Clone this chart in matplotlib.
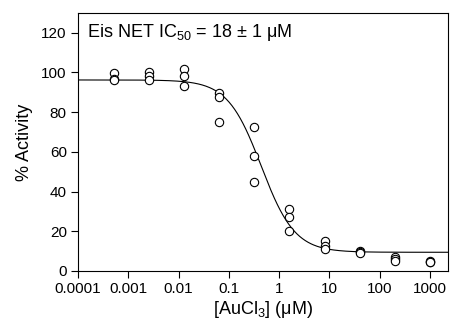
import matplotlib
matplotlib.use("Agg")
import matplotlib.pyplot as plt
import numpy as np

plt.rcParams['font.family'] = ['Liberation Sans', 'DejaVu Sans']
plt.rcParams['mathtext.fontset'] = 'custom'
plt.rcParams['mathtext.rm'] = 'Liberation Sans'
plt.rcParams['mathtext.it'] = 'Liberation Sans'

# concentrations (uM), 5-fold dilutions, three replicates each
conc = [0.000512, 0.00256, 0.0128, 0.064, 0.32, 1.6, 8, 40, 200, 1000]
rep1 = [99.5, 100.3, 101.6, 89.7, 72.7, 31.0, 15.1, 10.2, 7.2, 5.0]
rep2 = [96.8, 98.0, 98.0, 87.6, 57.8, 27.0, 12.8, 9.4, 5.9, 4.6]
rep3 = [96.0, 96.2, 93.2, 75.2, 45.0, 20.3, 11.0, 8.9, 5.0, 4.4]

# four-parameter fit
top = 96.2
bottom = 9.4
ic50 = 0.44
hill = 1.3

xticks = [0.0001, 0.001, 0.01, 0.1, 1, 10, 100, 1000]
xticklabels = ['0.0001', '0.001', '0.01', '0.1', '1', '10', '100', '1000']
yticks = [0, 20, 40, 60, 80, 100, 120]

fig = plt.figure(figsize=(4.53, 3.30), dpi=100)
ax = fig.add_axes([0.172, 0.179, 0.817, 0.782])

xs = np.logspace(-4, np.log10(2270), 400)
ax.plot(xs, bottom + (top - bottom) / (1 + (xs / ic50) ** hill), color='black', lw=0.8)

for r in (rep1, rep2, rep3):
    ax.plot(conc, r, 'o', mfc='white', mec='black', mew=0.8, ms=6, ls='none')

ax.set_xscale('log')
ax.set_xlim(1e-4, 2270)
ax.set_ylim(0, 130)
ax.set_xticks(xticks)
ax.set_xticklabels(xticklabels)
ax.xaxis.set_minor_locator(matplotlib.ticker.NullLocator())
ax.set_yticks(yticks)
ax.tick_params(direction='out', length=5, width=0.8, labelsize=11, pad=3)
for s in ax.spines.values():
    s.set_linewidth(0.8)

ax.set_xlabel(r'[AuCl$_3$] ($\mu$M)', fontsize=13, labelpad=2)
ax.set_ylabel('% Activity', fontsize=13, labelpad=6)
ax.text(0.025, 0.965, r'Eis NET IC$_{50}$ = 18 ± 1 μM', transform=ax.transAxes,
        fontsize=13, va='top', ha='left')

fig.savefig('out.png', dpi=100)
